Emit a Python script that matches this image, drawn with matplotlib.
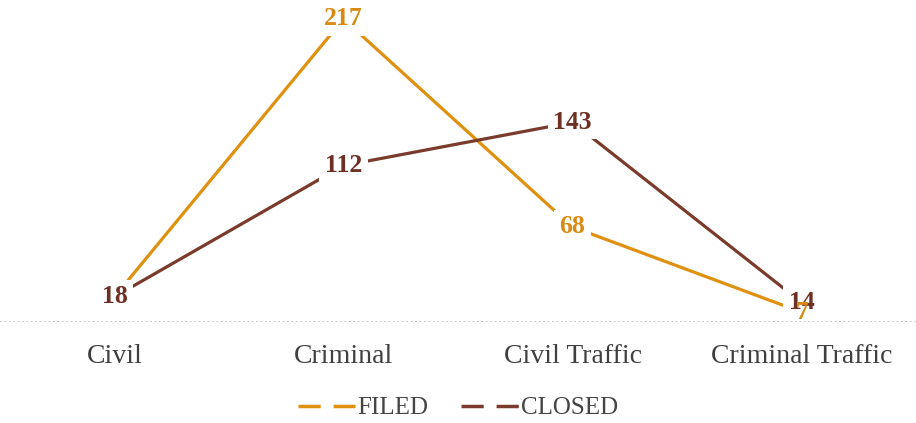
import matplotlib.pyplot as plt
from matplotlib.lines import Line2D

# Данні
categories = ['Civil', 'Criminal', 'Civil Traffic', 'Criminal Traffic']
filed = [18, 217, 68, 7]
closed = [18, 112, 143, 14]

filed_color = '#E0900F'
closed_color = '#7A3B2C'

plt.rcParams['font.family'] = ['Liberation Serif', 'DejaVu Serif']

fig = plt.figure(figsize=(9.16, 4.23), dpi=100)
ax = fig.add_axes([0, 0.239, 1, 0.759])

x = range(len(categories))
ax.plot(x, filed, color=filed_color, linewidth=2.3, zorder=2)
ax.plot(x, closed, color=closed_color, linewidth=2.3, zorder=2)

# Підписи значень з білим фоном
for xi, v in zip(x, filed):
    # у першій точці підпис ховається під підписом CLOSED, в останній - без фону
    ax.text(xi, v, str(v), ha='center', va='center', fontsize=18.5,
            fontweight='bold', color='#D98A12', zorder=5 if xi == 3 else 3,
            bbox=dict(facecolor='white', edgecolor='none', pad=4) if xi != 3 else None)
for xi, v in zip(x, closed):
    ax.text(xi, v, str(v), ha='center', va='center', fontsize=18.5,
            fontweight='bold', color='#6E2F24', zorder=4,
            bbox=dict(facecolor='white', edgecolor='none', pad=4))

ax.set_xlim(-0.5, 3.5)
ax.set_ylim(0, 230)
ax.axhline(0, color='#BBBBBB', linestyle=':', linewidth=1.2, zorder=1)

for s in ax.spines.values():
    s.set_visible(False)
ax.set_yticks([])
ax.set_xticks(list(x))
ax.set_xticklabels(categories, fontsize=20, color='#404040')
ax.tick_params(axis='x', length=0, pad=16)

handles = [Line2D([], [], color=filed_color, linewidth=2.5, linestyle=(0, (6.4, 3.7))),
           Line2D([], [], color=closed_color, linewidth=2.5, linestyle=(0, (6.4, 3.7)))]
fig.legend(handles, ['FILED', 'CLOSED'], loc='center', bbox_to_anchor=(0.5, 0.035),
           ncol=2, frameon=False, fontsize=18, labelcolor='#444444',
           handlelength=2.3, handletextpad=0.1, columnspacing=1.3)

fig.savefig('out.png', dpi=100)
